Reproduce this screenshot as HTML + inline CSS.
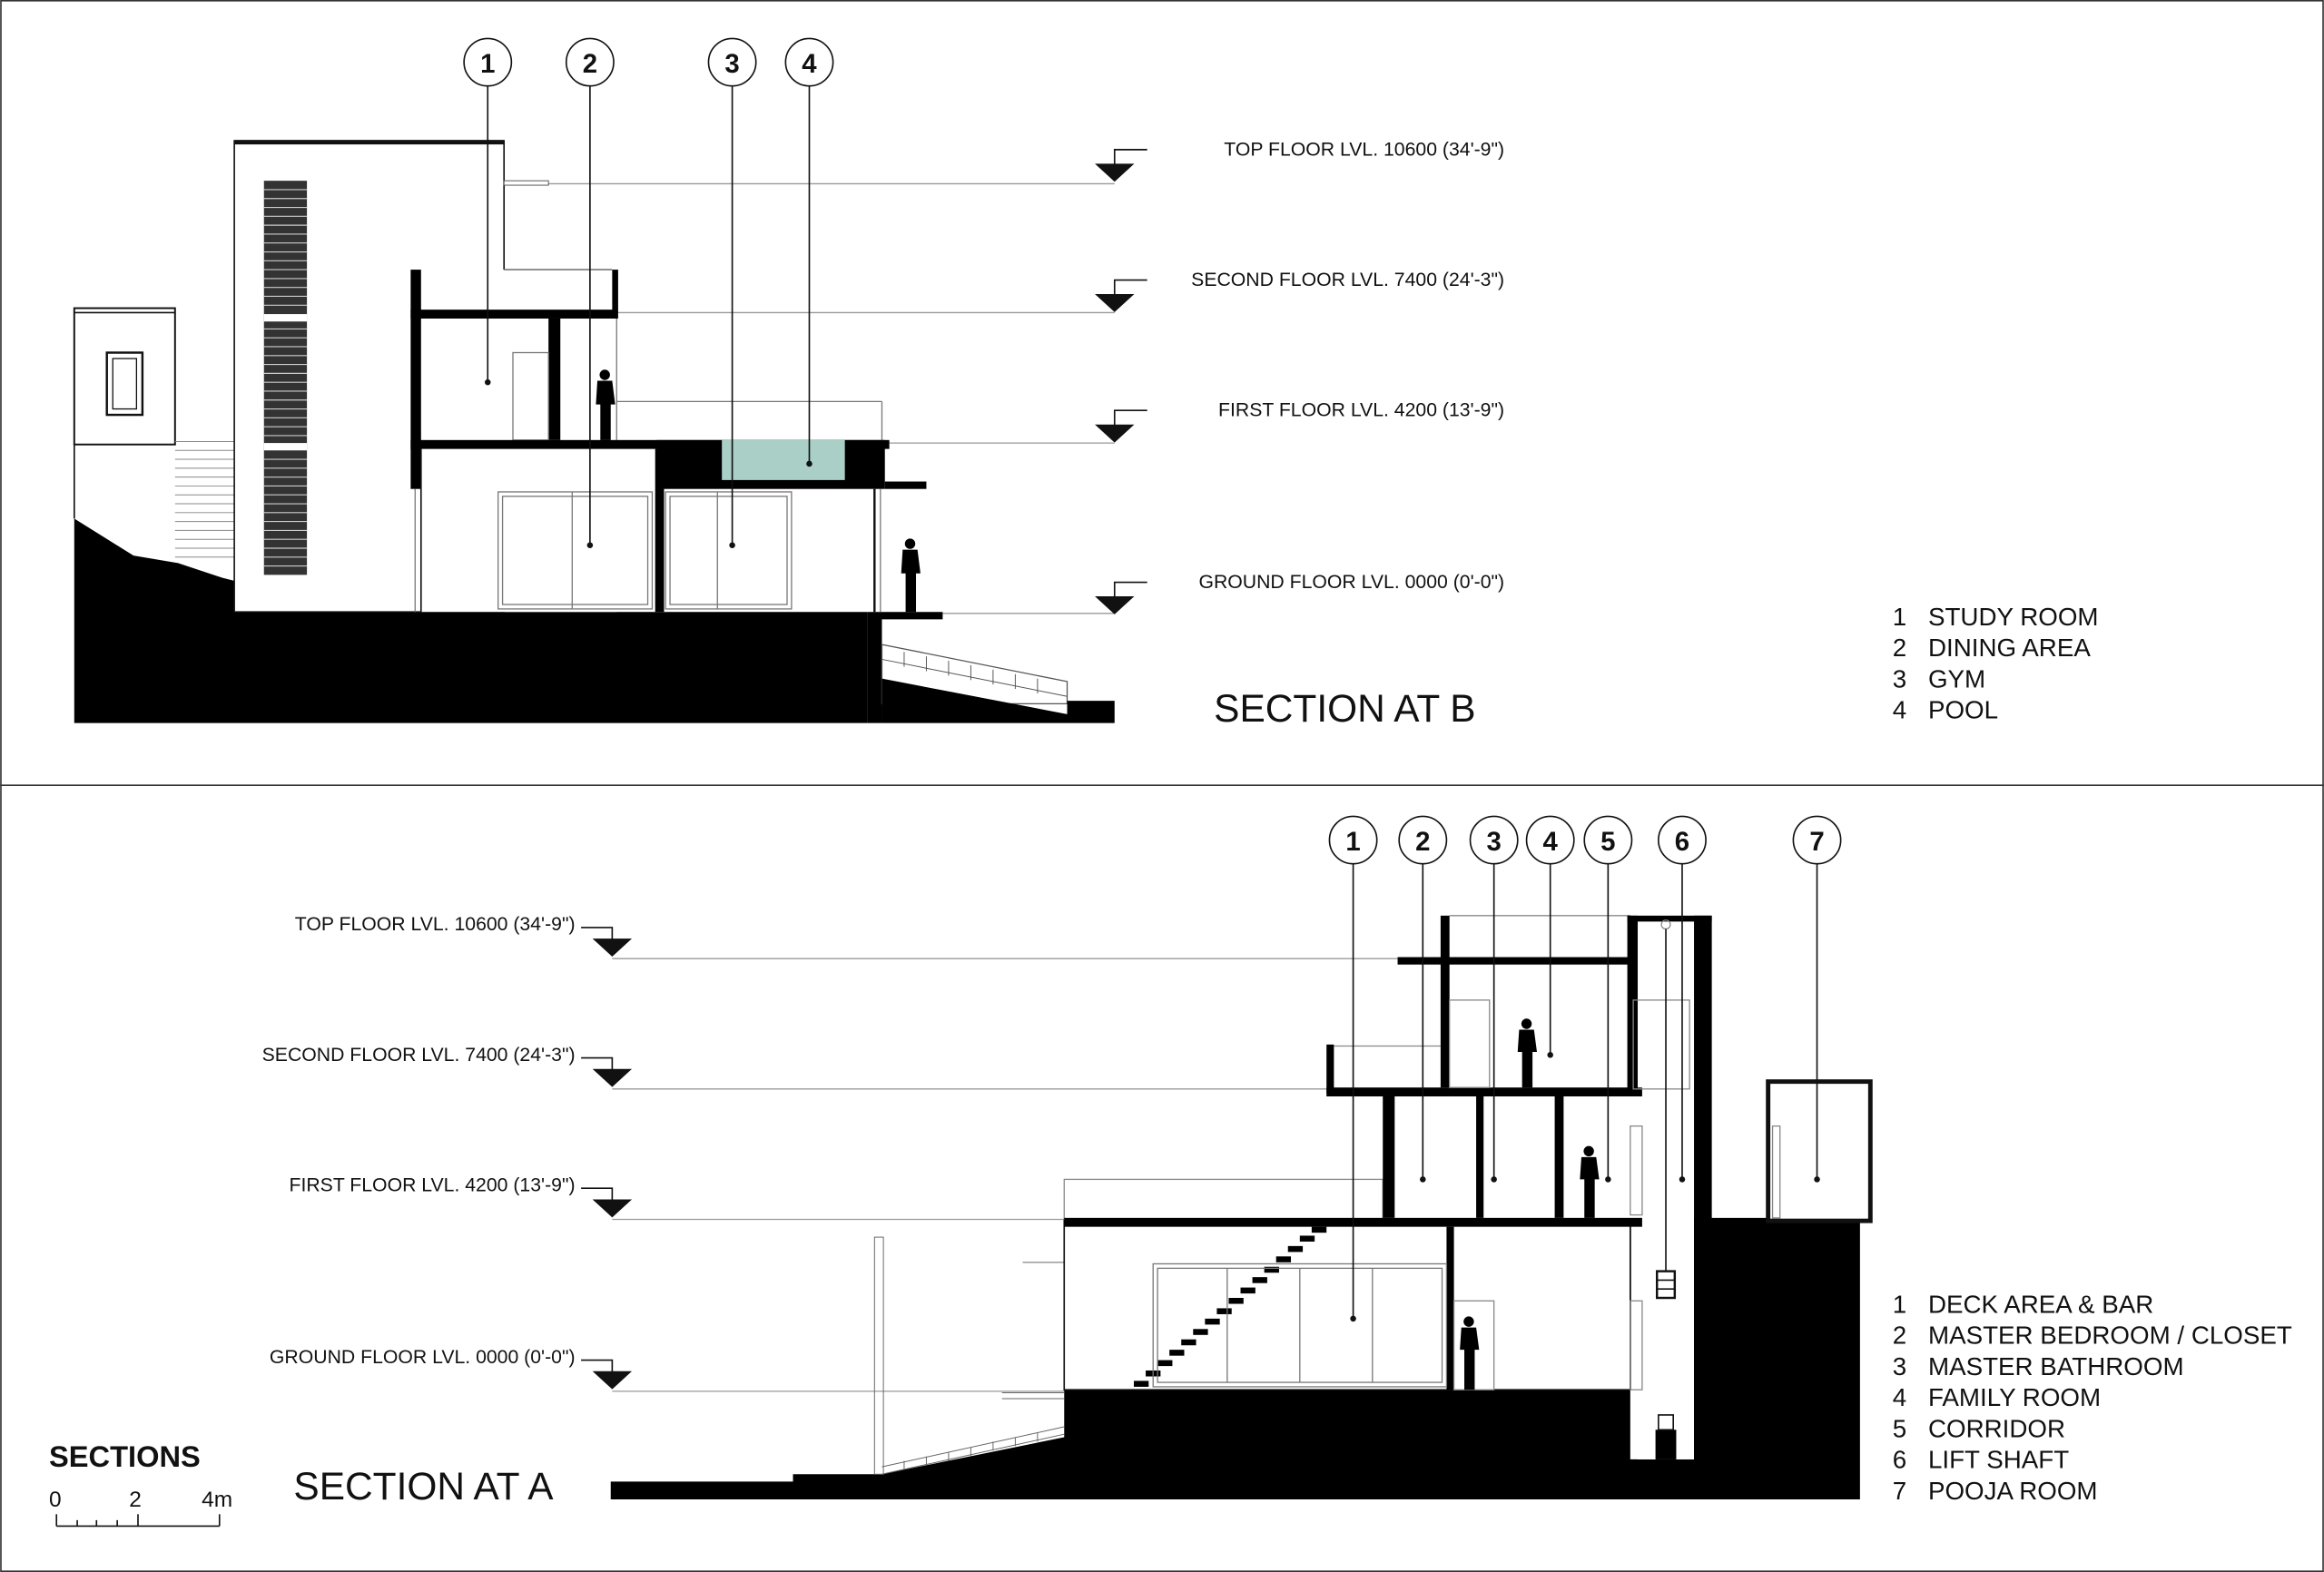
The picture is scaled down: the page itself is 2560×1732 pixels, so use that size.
<!DOCTYPE html>
<html><head><meta charset="utf-8"><style>
html,body{margin:0;padding:0;background:#fff;}
svg{display:block;}
text{font-family:"Liberation Sans",sans-serif;fill:#111;}
</style></head><body>
<svg width="2560" height="1732" viewBox="0 0 1568 1061" xmlns="http://www.w3.org/2000/svg">
<rect x="0.5" y="0.5" width="1567" height="1060" fill="#fff" stroke="#333" stroke-width="1"/>
<line x1="0" y1="530" x2="1568" y2="530" stroke="#333" stroke-width="1"/>

<!-- ============ SECTION B ============ -->
<g>
<!-- level lines -->
<g stroke="#999" stroke-width="0.8">
<line x1="340" y1="124" x2="752" y2="124"/>
<line x1="416" y1="211" x2="752" y2="211"/>
<line x1="600" y1="299" x2="752" y2="299"/>
<line x1="636" y1="414" x2="752" y2="414"/>
</g>
<!-- level markers -->
<g fill="#111" stroke="#111" stroke-width="1">
<polygon points="740,111 764,111 752,122"/><polyline points="752,111 752,101 774,101" fill="none"/>
<polygon points="740,199 764,199 752,210"/><polyline points="752,199 752,189 774,189" fill="none"/>
<polygon points="740,287 764,287 752,298"/><polyline points="752,287 752,277 774,277" fill="none"/>
<polygon points="740,403 764,403 752,414"/><polyline points="752,403 752,393 774,393" fill="none"/>
</g>
<g font-size="13" text-anchor="end">
<text x="1015" y="105">TOP FLOOR LVL. 10600 (34'-9")</text>
<text x="1015" y="193">SECOND FLOOR LVL. 7400 (24'-3")</text>
<text x="1015" y="281">FIRST FLOOR LVL. 4200 (13'-9")</text>
<text x="1015" y="397">GROUND FLOOR LVL. 0000 (0'-0")</text>
</g>

<!-- ground -->
<polygon fill="#000" points="50,350 90,375 120,380 150,390 170,395 185,402 200,413 585,413 585,488 50,488"/>
<polygon fill="#000" points="585,413 636,413 636,418 595,418 595,488 585,488"/>
<polygon fill="#fff" stroke="#555" stroke-width="0.8" points="595,435 720,460 720,475 595,475"/>
<g stroke="#555" stroke-width="0.6">
<line x1="595" y1="445" x2="720" y2="470"/>
<line x1="610" y1="440" x2="610" y2="450"/><line x1="625" y1="443" x2="625" y2="453"/><line x1="640" y1="446" x2="640" y2="456"/>
<line x1="655" y1="449" x2="655" y2="459"/><line x1="670" y1="452" x2="670" y2="462"/><line x1="685" y1="455" x2="685" y2="465"/><line x1="700" y1="458" x2="700" y2="468"/>
</g>
<polygon fill="#000" points="595,458 720,482 720,473 752,473 752,488 595,488"/>

<!-- left small building -->
<rect x="50" y="208" width="68" height="92" fill="#fff" stroke="#111" stroke-width="1.2"/>
<line x1="50" y1="211" x2="118" y2="211" stroke="#111"/>
<rect x="72" y="238" width="24" height="42" fill="#fff" stroke="#111" stroke-width="1.5"/>
<rect x="76" y="242" width="16" height="34" fill="#fff" stroke="#111" stroke-width="0.8"/>
<line x1="50" y1="300" x2="50" y2="350" stroke="#111"/>
<g stroke="#888" stroke-width="0.6">
<line x1="118" y1="298" x2="158" y2="298"/><line x1="118" y1="304" x2="158" y2="304"/><line x1="118" y1="310" x2="158" y2="310"/>
<line x1="118" y1="316" x2="158" y2="316"/><line x1="118" y1="322" x2="158" y2="322"/><line x1="118" y1="328" x2="158" y2="328"/>
<line x1="118" y1="334" x2="158" y2="334"/><line x1="118" y1="340" x2="158" y2="340"/><line x1="118" y1="346" x2="158" y2="346"/>
<line x1="118" y1="352" x2="158" y2="352"/><line x1="118" y1="358" x2="158" y2="358"/><line x1="118" y1="364" x2="158" y2="364"/>
<line x1="118" y1="370" x2="158" y2="370"/><line x1="118" y1="376" x2="158" y2="376"/>
</g>

<!-- tall block -->
<rect x="158" y="95" width="182" height="318" fill="#fff" stroke="#111" stroke-width="1"/>
<line x1="158" y1="96" x2="340" y2="96" stroke="#111" stroke-width="3"/>
<rect x="340" y="122" width="30" height="3" fill="#fff" stroke="#555" stroke-width="0.6"/>
<rect x="178" y="122" width="29" height="266" fill="#333"/>
<g stroke="#ccc" stroke-width="0.7">
<line x1="178" y1="128" x2="207" y2="128"/><line x1="178" y1="134" x2="207" y2="134"/><line x1="178" y1="140" x2="207" y2="140"/>
<line x1="178" y1="146" x2="207" y2="146"/><line x1="178" y1="152" x2="207" y2="152"/><line x1="178" y1="158" x2="207" y2="158"/>
<line x1="178" y1="164" x2="207" y2="164"/><line x1="178" y1="170" x2="207" y2="170"/><line x1="178" y1="176" x2="207" y2="176"/>
<line x1="178" y1="182" x2="207" y2="182"/><line x1="178" y1="188" x2="207" y2="188"/><line x1="178" y1="194" x2="207" y2="194"/>
<line x1="178" y1="200" x2="207" y2="200"/><line x1="178" y1="206" x2="207" y2="206"/>
<line x1="178" y1="222" x2="207" y2="222"/><line x1="178" y1="228" x2="207" y2="228"/><line x1="178" y1="234" x2="207" y2="234"/>
<line x1="178" y1="240" x2="207" y2="240"/><line x1="178" y1="246" x2="207" y2="246"/><line x1="178" y1="252" x2="207" y2="252"/>
<line x1="178" y1="258" x2="207" y2="258"/><line x1="178" y1="264" x2="207" y2="264"/><line x1="178" y1="270" x2="207" y2="270"/>
<line x1="178" y1="276" x2="207" y2="276"/><line x1="178" y1="282" x2="207" y2="282"/><line x1="178" y1="288" x2="207" y2="288"/>
<line x1="178" y1="294" x2="207" y2="294"/>
<line x1="178" y1="310" x2="207" y2="310"/><line x1="178" y1="316" x2="207" y2="316"/><line x1="178" y1="322" x2="207" y2="322"/>
<line x1="178" y1="328" x2="207" y2="328"/><line x1="178" y1="334" x2="207" y2="334"/><line x1="178" y1="340" x2="207" y2="340"/>
<line x1="178" y1="346" x2="207" y2="346"/><line x1="178" y1="352" x2="207" y2="352"/><line x1="178" y1="358" x2="207" y2="358"/>
<line x1="178" y1="364" x2="207" y2="364"/><line x1="178" y1="370" x2="207" y2="370"/><line x1="178" y1="376" x2="207" y2="376"/>
<line x1="178" y1="382" x2="207" y2="382"/>
</g>
<rect x="178" y="212" width="29" height="5" fill="#fff"/>
<rect x="178" y="299" width="29" height="5" fill="#fff"/>

<!-- main structure -->
<rect x="284" y="182" width="132" height="231" fill="#fff"/>
<rect x="277" y="182" width="7" height="148" fill="#000"/>
<rect x="277" y="209" width="139" height="6" fill="#000"/>
<rect x="413" y="182" width="4" height="33" fill="#000"/>
<line x1="340" y1="182" x2="413" y2="182" stroke="#777" stroke-width="1"/>
<rect x="370" y="215" width="8" height="82" fill="#000"/>
<rect x="346" y="238" width="24" height="59" fill="#fff" stroke="#777" stroke-width="0.8"/>
<line x1="416" y1="215" x2="416" y2="297" stroke="#777" stroke-width="0.8"/>
<line x1="416" y1="271" x2="595" y2="271" stroke="#777" stroke-width="0.8"/>
<line x1="595" y1="271" x2="595" y2="297" stroke="#777" stroke-width="0.8"/>
<rect x="277" y="297" width="323" height="6" fill="#000"/>
<rect x="443" y="297" width="154" height="33" fill="#000"/>
<rect x="487" y="297" width="83" height="27" fill="#a9cfc6"/>
<rect x="597" y="325" width="28" height="5" fill="#000"/>
<rect x="442" y="303" width="6" height="110" fill="#000"/>
<line x1="284" y1="303" x2="284" y2="413" stroke="#111" stroke-width="1"/>
<line x1="280" y1="330" x2="280" y2="413" stroke="#777" stroke-width="0.8"/>
<line x1="590" y1="330" x2="590" y2="413" stroke="#111" stroke-width="1.5"/>
<line x1="594" y1="330" x2="594" y2="413" stroke="#777" stroke-width="0.8"/>
<!-- glass -->
<g fill="none" stroke="#777" stroke-width="0.8">
<rect x="336" y="332" width="104" height="79"/><rect x="339" y="335" width="98" height="73"/>
<line x1="386" y1="332" x2="386" y2="411"/>
<rect x="449" y="332" width="85" height="79"/><rect x="452" y="335" width="79" height="73"/>
<line x1="484" y1="332" x2="484" y2="411"/>
</g>
<!-- people -->
<g fill="#000">
<circle cx="408" cy="253" r="3.5"/><path d="M403,257 h10 l2,16 h-3 v24 h-7 v-24 h-3 z"/>
<circle cx="614" cy="367" r="3.5"/><path d="M609,371 h10 l2,16 h-3 v26 h-7 v-26 h-3 z"/>
</g>
<!-- callouts -->
<g stroke="#111" stroke-width="1" fill="#fff">
<circle cx="329" cy="42" r="16"/><circle cx="398" cy="42" r="16"/><circle cx="494" cy="42" r="16"/><circle cx="546" cy="42" r="16"/>
<line x1="329" y1="58" x2="329" y2="258"/><line x1="398" y1="58" x2="398" y2="368"/>
<line x1="494" y1="58" x2="494" y2="368"/><line x1="546" y1="58" x2="546" y2="313"/>
</g>
<g fill="#111"><circle cx="329" cy="258" r="2"/><circle cx="398" cy="368" r="2"/><circle cx="494" cy="368" r="2"/><circle cx="546" cy="313" r="2"/></g>
<g font-size="18" font-weight="bold" text-anchor="middle">
<text x="329" y="49">1</text><text x="398" y="49">2</text><text x="494" y="49">3</text><text x="546" y="49">4</text>
</g>
<text x="819" y="487" font-size="26">SECTION AT B</text>
<g font-size="17">
<text x="1277" y="422">1</text><text x="1301" y="422">STUDY ROOM</text>
<text x="1277" y="443">2</text><text x="1301" y="443">DINING AREA</text>
<text x="1277" y="464">3</text><text x="1301" y="464">GYM</text>
<text x="1277" y="485">4</text><text x="1301" y="485">POOL</text>
</g>
</g>

<!-- ============ SECTION A ============ -->
<g>
<g stroke="#999" stroke-width="0.8">
<line x1="413" y1="647" x2="943" y2="647"/>
<line x1="413" y1="735" x2="895" y2="735"/>
<line x1="413" y1="823" x2="718" y2="823"/>
<line x1="413" y1="939" x2="718" y2="939"/>
</g>
<g fill="#111" stroke="#111" stroke-width="1">
<polygon points="401,634 425,634 413,645"/><polyline points="413,634 413,626 392,626" fill="none"/>
<polygon points="401,722 425,722 413,733"/><polyline points="413,722 413,714 392,714" fill="none"/>
<polygon points="401,810 425,810 413,821"/><polyline points="413,810 413,802 392,802" fill="none"/>
<polygon points="401,926 425,926 413,937"/><polyline points="413,926 413,918 392,918" fill="none"/>
</g>
<g font-size="13" text-anchor="end">
<text x="388" y="628">TOP FLOOR LVL. 10600 (34'-9")</text>
<text x="388" y="716">SECOND FLOOR LVL. 7400 (24'-3")</text>
<text x="388" y="804">FIRST FLOOR LVL. 4200 (13'-9")</text>
<text x="388" y="920">GROUND FLOOR LVL. 0000 (0'-0")</text>
</g>

<!-- ground -->
<polygon fill="#000" points="412,1000 535,1000 535,995 595,995 718,970 718,938 1100,938 1100,985 1143,985 1143,822 1255,822 1255,1012 412,1012"/>
<rect x="1105" y="938" width="38" height="47" fill="#fff"/>
<!-- outdoor stair -->
<g stroke="#666" stroke-width="0.6" fill="none">
<line x1="595" y1="995" x2="718" y2="968"/><line x1="595" y1="990" x2="718" y2="963"/>
<line x1="610" y1="986" x2="610" y2="992"/><line x1="625" y1="983" x2="625" y2="989"/><line x1="640" y1="980" x2="640" y2="986"/>
<line x1="655" y1="977" x2="655" y2="983"/><line x1="670" y1="973" x2="670" y2="979"/><line x1="685" y1="970" x2="685" y2="976"/><line x1="700" y1="967" x2="700" y2="973"/>
<rect x="590" y="835" width="6" height="160"/>
<line x1="690" y1="852" x2="718" y2="852"/><line x1="676" y1="940" x2="718" y2="940"/><line x1="676" y1="944" x2="718" y2="944"/>
</g>
<!-- building outline -->
<rect x="718" y="823" width="382" height="115" fill="#fff" stroke="#111" stroke-width="1"/>
<rect x="718" y="796" width="215" height="27" fill="#fff" stroke="#888" stroke-width="0.8"/>
<rect x="718" y="822" width="390" height="6" fill="#000"/>
<rect x="895" y="705" width="5" height="33" fill="#000"/>
<line x1="900" y1="706" x2="972" y2="706" stroke="#888" stroke-width="0.8"/>
<rect x="895" y="734" width="213" height="6" fill="#000"/>
<rect x="933" y="740" width="8" height="82" fill="#000"/>
<rect x="996" y="740" width="5" height="82" fill="#000"/>
<rect x="1049" y="740" width="6" height="82" fill="#000"/>
<rect x="972" y="618" width="6" height="116" fill="#000"/>
<rect x="943" y="646" width="157" height="5" fill="#000"/>
<line x1="978" y1="618" x2="1100" y2="618" stroke="#888" stroke-width="0.8"/>
<rect x="978" y="675" width="27" height="59" fill="#fff" stroke="#888" stroke-width="0.8"/>
<rect x="976" y="828" width="5" height="110" fill="#000"/>
<rect x="981" y="878" width="27" height="60" fill="#fff" stroke="#888" stroke-width="0.8"/>
<line x1="1100" y1="828" x2="1100" y2="938" stroke="#111"/>
<!-- lift shaft -->
<rect x="1098" y="618" width="7" height="120" fill="#000"/>
<rect x="1143" y="618" width="12" height="367" fill="#000"/>
<rect x="1098" y="618" width="57" height="4" fill="#000"/>
<rect x="1102" y="675" width="38" height="60" fill="none" stroke="#888" stroke-width="0.8"/>
<g stroke="#888" stroke-width="0.8" fill="none">
<rect x="1100" y="760" width="8" height="60"/><rect x="1100" y="878" width="8" height="60"/>
<circle cx="1124" cy="624" r="3"/>
</g>
<line x1="1124" y1="627" x2="1124" y2="858" stroke="#111" stroke-width="1"/>
<rect x="1118" y="858" width="12" height="18" fill="#fff" stroke="#111" stroke-width="1.5"/>
<line x1="1118" y1="864" x2="1130" y2="864" stroke="#111"/><line x1="1118" y1="870" x2="1130" y2="870" stroke="#111"/>
<rect x="1117" y="965" width="14" height="20" fill="#000"/><rect x="1119" y="955" width="10" height="10" fill="#fff" stroke="#111"/>
<!-- pooja -->
<rect x="1193" y="730" width="69" height="94" fill="#fff" stroke="#111" stroke-width="3"/>
<rect x="1196" y="760" width="5" height="62" fill="none" stroke="#888" stroke-width="0.8"/>
<!-- internal stair -->
<g fill="#000">
<rect x="765" y="932" width="10" height="4"/><rect x="773" y="925" width="10" height="4"/><rect x="781" y="918" width="10" height="4"/>
<rect x="789" y="911" width="10" height="4"/><rect x="797" y="904" width="10" height="4"/><rect x="805" y="897" width="10" height="4"/>
<rect x="813" y="890" width="10" height="4"/><rect x="821" y="883" width="10" height="4"/><rect x="829" y="876" width="10" height="4"/>
<rect x="837" y="869" width="10" height="4"/><rect x="845" y="862" width="10" height="4"/><rect x="853" y="855" width="10" height="4"/>
<rect x="861" y="848" width="10" height="4"/><rect x="869" y="841" width="10" height="4"/><rect x="877" y="834" width="10" height="4"/>
<rect x="885" y="828" width="10" height="4"/>
</g>
<!-- glass -->
<g fill="none" stroke="#777" stroke-width="0.8">
<rect x="778" y="853" width="198" height="83"/><rect x="781" y="856" width="192" height="77"/>
<line x1="828" y1="856" x2="828" y2="933"/><line x1="877" y1="856" x2="877" y2="933"/><line x1="926" y1="856" x2="926" y2="933"/>
</g>
<!-- people -->
<g fill="#000">
<circle cx="1030" cy="691" r="3.5"/><path d="M1025,695 h10 l2,15 h-3 v24 h-7 v-24 h-3 z"/>
<circle cx="1072" cy="777" r="3.5"/><path d="M1067,781 h10 l2,15 h-3 v26 h-7 v-26 h-3 z"/>
<circle cx="991" cy="892" r="3.5"/><path d="M986,896 h10 l2,15 h-3 v27 h-7 v-27 h-3 z"/>
</g>
<!-- callouts -->
<g stroke="#111" stroke-width="1" fill="#fff">
<circle cx="913" cy="567" r="16"/><circle cx="960" cy="567" r="16"/><circle cx="1008" cy="567" r="16"/>
<circle cx="1046" cy="567" r="16"/><circle cx="1085" cy="567" r="16"/><circle cx="1135" cy="567" r="16"/><circle cx="1226" cy="567" r="16"/>
<line x1="913" y1="583" x2="913" y2="890"/><line x1="960" y1="583" x2="960" y2="796"/><line x1="1008" y1="583" x2="1008" y2="796"/>
<line x1="1046" y1="583" x2="1046" y2="712"/><line x1="1085" y1="583" x2="1085" y2="796"/><line x1="1135" y1="583" x2="1135" y2="796"/>
<line x1="1226" y1="583" x2="1226" y2="796"/>
</g>
<g fill="#111"><circle cx="913" cy="890" r="2"/><circle cx="960" cy="796" r="2"/><circle cx="1008" cy="796" r="2"/><circle cx="1046" cy="712" r="2"/><circle cx="1085" cy="796" r="2"/><circle cx="1135" cy="796" r="2"/><circle cx="1226" cy="796" r="2"/></g>
<g font-size="18" font-weight="bold" text-anchor="middle">
<text x="913" y="574">1</text><text x="960" y="574">2</text><text x="1008" y="574">3</text><text x="1046" y="574">4</text>
<text x="1085" y="574">5</text><text x="1135" y="574">6</text><text x="1226" y="574">7</text>
</g>
<g font-size="17">
<text x="1277" y="886">1</text><text x="1301" y="886">DECK AREA &amp; BAR</text>
<text x="1277" y="907">2</text><text x="1301" y="907">MASTER BEDROOM / CLOSET</text>
<text x="1277" y="928">3</text><text x="1301" y="928">MASTER BATHROOM</text>
<text x="1277" y="949">4</text><text x="1301" y="949">FAMILY ROOM</text>
<text x="1277" y="970">5</text><text x="1301" y="970">CORRIDOR</text>
<text x="1277" y="991">6</text><text x="1301" y="991">LIFT SHAFT</text>
<text x="1277" y="1012">7</text><text x="1301" y="1012">POOJA ROOM</text>
</g>
<text x="198" y="1012" font-size="26">SECTION AT A</text>
<text x="33" y="990" font-size="20" font-weight="bold">SECTIONS</text>
<g font-size="15"><text x="33" y="1017">0</text><text x="87" y="1017">2</text><text x="136" y="1017">4m</text></g>
<g stroke="#111" stroke-width="1">
<line x1="38" y1="1030" x2="148" y2="1030"/>
<line x1="38" y1="1022" x2="38" y2="1030"/><line x1="52" y1="1026" x2="52" y2="1030"/><line x1="65" y1="1026" x2="65" y2="1030"/>
<line x1="79" y1="1026" x2="79" y2="1030"/><line x1="93" y1="1022" x2="93" y2="1030"/><line x1="148" y1="1022" x2="148" y2="1030"/>
</g>
</g>
</svg>
</body></html>
